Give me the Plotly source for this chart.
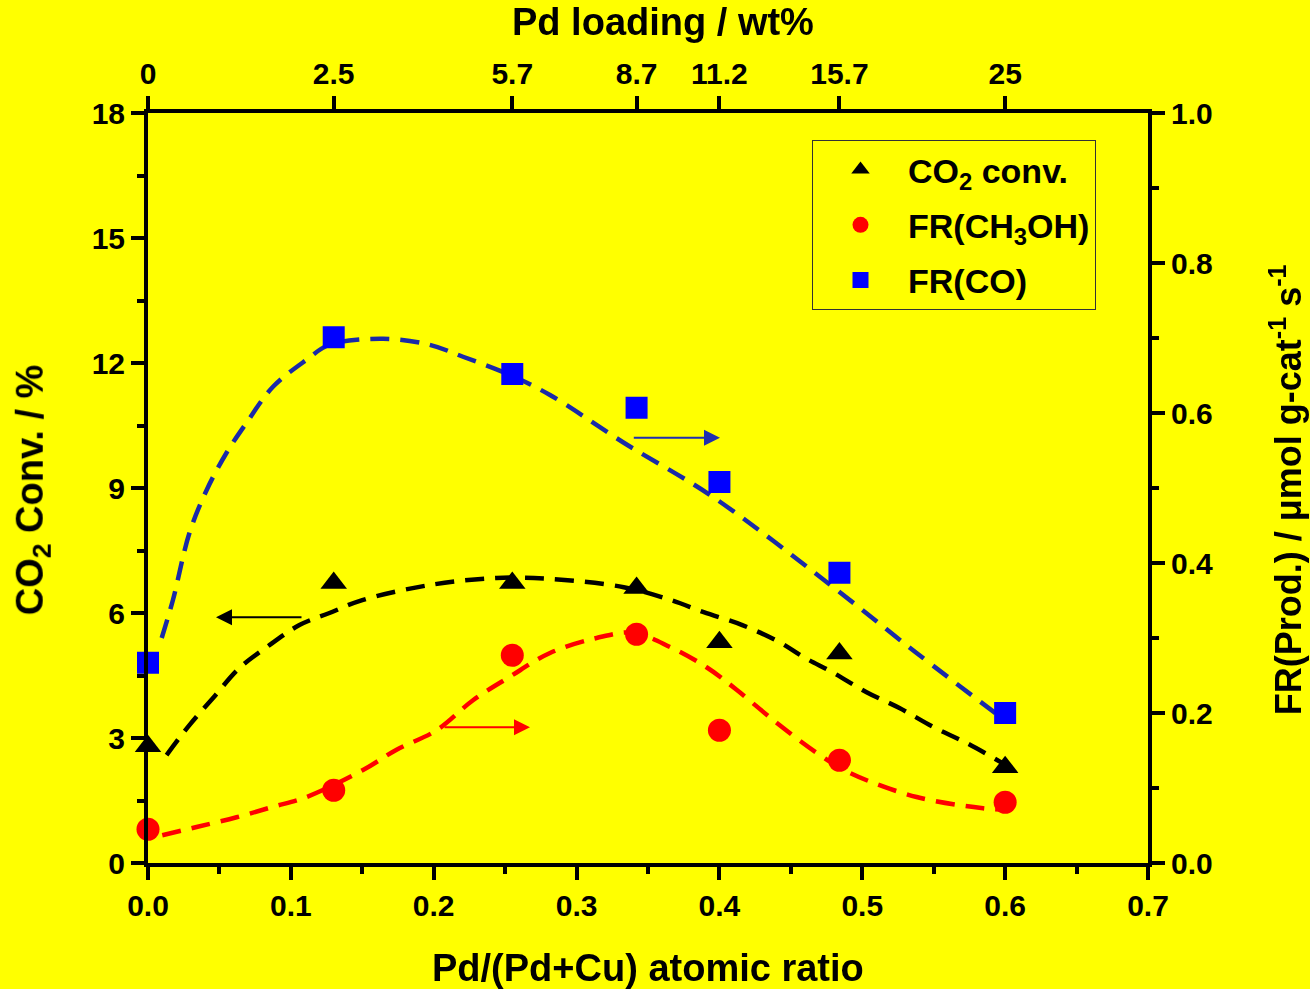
import plotly.graph_objects as go

# ---- data ----
ratio = [0, 0.13, 0.255, 0.342, 0.4, 0.484, 0.6]
loading_labels = ['0', '2.5', '5.7', '8.7', '11.2', '15.7', '25']
co2_conv = [2.8, 6.72, 6.72, 6.6, 5.3, 5.03, 2.3]
fr_ch3oh = [0.045, 0.097, 0.277, 0.305, 0.177, 0.137, 0.081]
fr_co = [0.267, 0.701, 0.652, 0.607, 0.508, 0.387, 0.2]

# fitted (dashed) curves
co2_fit_x = [0.013, 0.029, 0.046, 0.064, 0.083, 0.106, 0.127, 0.15, 0.197, 0.244, 0.281, 0.333,
             0.366, 0.389, 0.416, 0.442, 0.459, 0.48, 0.503, 0.526, 0.55, 0.573, 0.6]
co2_fit_y = [2.59, 3.31, 3.98, 4.68, 5.18, 5.71, 6.0, 6.31, 6.67, 6.84, 6.82, 6.62,
             6.31, 6.02, 5.71, 5.3, 4.94, 4.56, 4.1, 3.72, 3.26, 2.88, 2.36]
co_fit_x = [0.0096, 0.0175, 0.029, 0.041, 0.055, 0.069, 0.0875, 0.111, 0.127, 0.1645, 0.197,
            0.2205, 0.253, 0.2814, 0.3325, 0.3955, 0.4795, 0.538, 0.6]
co_fit_y = [0.30, 0.351, 0.44, 0.497, 0.547, 0.587, 0.635, 0.671, 0.691, 0.699, 0.691,
            0.675, 0.651, 0.624, 0.561, 0.488, 0.368, 0.28, 0.19]
ch3oh_fit_x = [0.01, 0.034, 0.062, 0.0875, 0.111, 0.1505, 0.174, 0.202, 0.2275, 0.253, 0.2814,
               0.314, 0.3395, 0.3655, 0.391, 0.412, 0.44, 0.468, 0.4915, 0.538, 0.5845, 0.6]
ch3oh_fit_y = [0.037, 0.048, 0.061, 0.075, 0.088, 0.124, 0.151, 0.177, 0.217, 0.248, 0.28,
               0.3, 0.307, 0.288, 0.261, 0.231, 0.187, 0.147, 0.12, 0.088, 0.073, 0.071]

# arrows: tail x, head x, y, axis, colour
arrow_tail_x = [0.1085, 0.2065, 0.339]
arrow_head_x = [0.0476, 0.2674, 0.4004]
arrow_y = [5.9, 0.181, 0.567]
arrow_axis = ['y', 'y2', 'y2']
arrow_color = ['black', '#FF0000', '#1F2FB0']

FONT = 'Liberation Sans, Arial, sans-serif'
BG = '#FFFF00'
DASH = '19px,11px'

fig = go.Figure()

# fitted curves
fig.add_trace(go.Scatter(x=co_fit_x, y=co_fit_y, yaxis='y2', mode='lines', line_shape='spline',
                         line=dict(color='#1A2AA8', width=4.5, dash=DASH), showlegend=False, hoverinfo='skip'))
fig.add_trace(go.Scatter(x=co2_fit_x, y=co2_fit_y, mode='lines', line_shape='spline',
                         line=dict(color='black', width=4.5, dash=DASH), showlegend=False, hoverinfo='skip'))
fig.add_trace(go.Scatter(x=ch3oh_fit_x, y=ch3oh_fit_y, yaxis='y2', mode='lines', line_shape='spline',
                         line=dict(color='#FF0000', width=4.5, dash=DASH), showlegend=False, hoverinfo='skip'))

# markers
fig.add_trace(go.Scatter(x=ratio, y=co2_conv, mode='markers', name='CO<sub>2</sub> conv.',
                         legendgroup='a', cliponaxis=False,
                         marker=dict(symbol='triangle-up', size=23, color='black')))
fig.add_trace(go.Scatter(x=ratio, y=fr_ch3oh, yaxis='y2', mode='markers', name='FR(CH<sub>3</sub>OH)',
                         legendgroup='b', cliponaxis=False,
                         marker=dict(symbol='circle', size=23, color='#FF0000')))
fig.add_trace(go.Scatter(x=ratio, y=fr_co, yaxis='y2', mode='markers', name='FR(CO)',
                         legendgroup='c', cliponaxis=False,
                         marker=dict(symbol='square', size=22, color='#0000FF')))
# invisible trace to anchor the top axis
fig.add_trace(go.Scatter(x=ratio, y=co2_conv, xaxis='x2', mode='markers', opacity=0,
                         showlegend=False, hoverinfo='skip'))

tickfont = dict(family=FONT, size=30, color='black', weight='bold')
axis_common = dict(showgrid=False, zeroline=False, showline=True, linecolor='black', linewidth=4,
                   ticks='outside', ticklen=13, tickwidth=4, tickcolor='black', tickfont=tickfont)

fig.update_layout(
    width=1310, height=989,
    paper_bgcolor=BG, plot_bgcolor=BG,
    margin=dict(l=148, r=162, t=113, b=126),
    xaxis=dict(range=[0, 0.7], dtick=0.1, tickformat='.1f',
               minor=dict(dtick=0.05, ticks='outside', ticklen=7, tickwidth=4, tickcolor='black'),
               **axis_common),
    xaxis2=dict(range=[0, 0.7], overlaying='x', side='top', anchor='y',
                tickmode='array', tickvals=ratio, ticktext=loading_labels, **axis_common),
    yaxis=dict(range=[0, 18], dtick=3,
               minor=dict(dtick=1.5, ticks='outside', ticklen=7, tickwidth=4, tickcolor='black'),
               **axis_common),
    yaxis2=dict(range=[0, 1.0], dtick=0.2, tickformat='.1f', overlaying='y', side='right', anchor='x',
                minor=dict(dtick=0.1, ticks='outside', ticklen=7, tickwidth=4, tickcolor='black'),
                **axis_common),
    legend=dict(x=0.664, y=0.964, xanchor='left', yanchor='top', bgcolor=BG,
                bordercolor='#333333', borderwidth=1, tracegroupgap=8, itemwidth=85,
                font=dict(family=FONT, size=34, color='black', weight='bold'),
                itemsizing='trace'),
    showlegend=True,
)

# titles
title_font = dict(family=FONT, size=38, color='black', weight='bold')
fig.add_annotation(text='Pd loading / wt%', xref='paper', yref='paper', x=0.515, y=1.121,
                   showarrow=False, font=title_font, xanchor='center', yanchor='middle')
fig.add_annotation(text='Pd/(Pd+Cu) atomic ratio', xref='paper', yref='paper', x=0.5, y=-0.14,
                   showarrow=False, font=title_font, xanchor='center', yanchor='middle')
fig.add_annotation(text='CO<sub>2</sub> Conv. / %', xref='paper', yref='paper', x=-0.115, y=0.497,
                   showarrow=False, font=title_font, textangle=-90, xanchor='center', yanchor='middle')
fig.add_annotation(text='FR(Prod.) / μmol g-cat<sup>-1</sup> s<sup>-1</sup>', xref='paper', yref='paper',
                   x=1.138, y=0.497, showarrow=False, font=dict(family=FONT, size=36, color='black', weight='bold'),
                   textangle=-90, xanchor='center', yanchor='middle')

# arrows
for tx, hx, yy, ax_, col in zip(arrow_tail_x, arrow_head_x, arrow_y, arrow_axis, arrow_color):
    fig.add_annotation(x=hx, y=yy, ax=tx, ay=yy, xref='x', yref=ax_, axref='x', ayref=ax_,
                       text='', showarrow=True, arrowhead=2, arrowsize=1.6, arrowwidth=2,
                       arrowcolor=col)

fig.write_html('out.html')
